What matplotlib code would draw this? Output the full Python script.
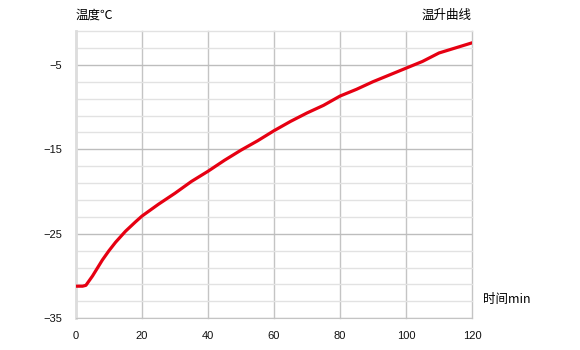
import numpy as np
import matplotlib
matplotlib.use('Agg')
from matplotlib import pyplot as plt
from matplotlib.ticker import FixedLocator

plt.rcParams['font.family'] = ['Noto Sans CJK SC', 'DejaVu Sans']

# temperature rise curve
minutes = [0, 2, 3, 5, 8, 10, 12, 15, 18, 20, 25, 30, 35, 40, 45, 50, 55, 60,
           65, 70, 75, 80, 85, 90, 95, 100, 105, 110, 115, 120]
temps = [-31.2, -31.2, -31.1, -30.0, -28.1, -27.0, -26.0, -24.7, -23.6, -22.9,
         -21.5, -20.2, -18.8, -17.6, -16.3, -15.1, -14.0, -12.8, -11.7, -10.7,
         -9.8, -8.7, -7.9, -7.0, -6.2, -5.4, -4.6, -3.6, -3.0, -2.4]
x_ticks = [0, 20, 40, 60, 80, 100, 120]
y_ticks = [-5, -15, -25, -35]

fig = plt.figure(figsize=(5.8, 3.5), dpi=100)
ax = fig.add_axes([0.131, 0.0906, 0.6828, 0.8208])

ax.set_xlim(0, 120)
ax.set_ylim(-35, -1)
ax.set_xticks(x_ticks)
ax.set_yticks(y_ticks)
ax.yaxis.set_minor_locator(FixedLocator(np.arange(-35, 0, 2)))
ax.grid(which='minor', axis='y', color='#e2e2e2', lw=1, clip_on=False)
ax.grid(which='major', axis='y', color='#bdbdbd', lw=1)
ax.grid(which='major', axis='x', color='#c4c4c4', lw=1, clip_on=False)
ax.tick_params(which='both', length=0)
ax.tick_params(axis='y', pad=10)
ax.tick_params(axis='x', pad=9)
for lbl in ax.get_xticklabels() + ax.get_yticklabels():
    lbl.set_family('Liberation Sans')
    lbl.set_fontsize(8)
    lbl.set_color('#111111')

for s in ['top', 'right']:
    ax.spines[s].set_visible(False)
ax.spines['left'].set_color('#dddddd')
ax.spines['left'].set_linewidth(2)
ax.spines['bottom'].set_color('#c4c4c4')

ax.plot(minutes, temps, color='#e60012', lw=2.3, solid_capstyle='round', zorder=3)

fig.text(76 / 580, 1 - 15 / 350, '温度℃', fontsize=9, va='center', ha='left')
fig.text(472 / 580, 1 - 15 / 350, '温升曲线', fontsize=9, va='center', ha='right')
fig.text(483 / 580, 1 - 300 / 350, '时间min', fontsize=9, va='center', ha='left')

fig.savefig('out.png', dpi=100)
